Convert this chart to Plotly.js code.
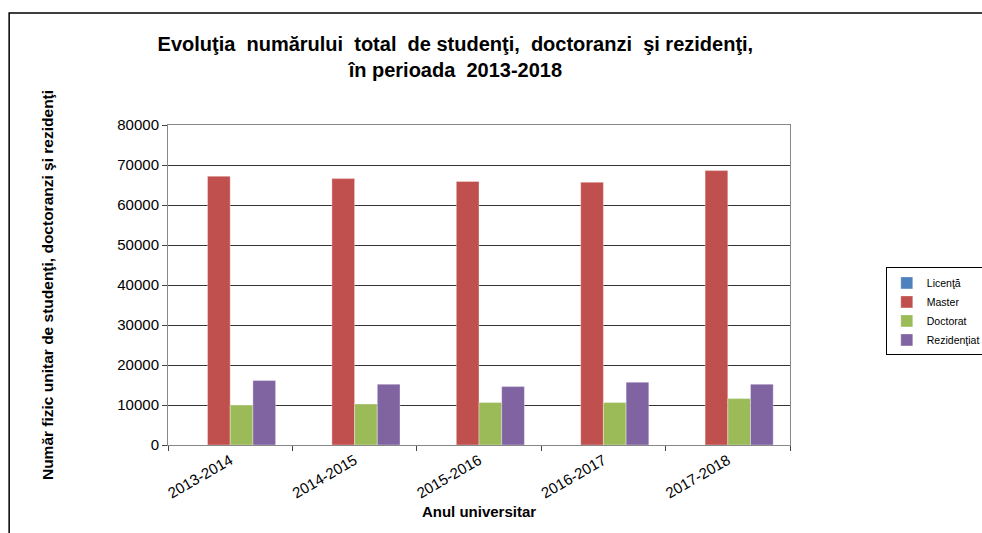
<!DOCTYPE html>
<html>
<head>
<meta charset="utf-8">
<script src="https://cdn.plot.ly/plotly-3.0.1.min.js"></script>
<style>
  body { margin: 0; background: #fff; }
  #chart { width: 982px; height: 533px; }
</style>
</head>
<body>
<div id="chart"></div>
<script>
// academic years
const years = ["2013-2014", "2014-2015", "2015-2016", "2016-2017", "2017-2018"];

// values
const licenta = [0, 0, 0, 0, 0];
const master = [67200, 66600, 65900, 65700, 68600];
const doctorat = [10000, 10250, 10650, 10650, 11600];
const rezidentiat = [16100, 15200, 14600, 15700, 15200];

const yTicks = [0, 10000, 20000, 30000, 40000, 50000, 60000, 70000, 80000];

function bar(name, vals, color) {
    return {
        type: 'bar',
        name: name,
        x: years,
        y: vals,
        marker: {color: color, line: {color: 'rgba(255,255,255,0.35)', width: 1}},
        hoverinfo: 'x+y+name'
    };
}

const data = [
    bar("Licenţă", licenta, '#4F81BD'),
    bar("Master", master, '#C0504D'),
    bar("Doctorat", doctorat, '#9BBB59'),
    bar("Rezidenţiat", rezidentiat, '#8064A2')
];

const layout = {
    width: 982,
    height: 533,
    margin: {l: 168, r: 192, t: 125, b: 88, autoexpand: false},
    paper_bgcolor: '#fff',
    plot_bgcolor: '#fff',
    font: {family: "Liberation Sans, Arial, sans-serif", color: '#000'},
    barmode: 'group',
    bargap: 0.27,
    bargroupgap: 0,
    title: {
        text: "<b>Evoluţia  numărului  total  de studenţi,  doctoranzi  şi rezidenţi,</b><br><b>în perioada  2013-2018</b>",
        font: {size: 20, color: '#000'},
        x: 0.462,
        xref: 'paper',
        xanchor: 'center',
        y: 0.905,
        yanchor: 'top'
    },
    xaxis: {
        type: 'category',
        tickangle: -30,
        tickfont: {size: 15, color: '#000'},
        ticks: 'outside',
        tickson: 'boundaries',
        ticklen: 5,
        tickcolor: '#444',
        showline: true,
        linecolor: '#888',
        linewidth: 1,
        mirror: true,
        showgrid: false,
        title: {text: "<b>Anul universitar</b>", font: {size: 15, color: '#000'}, standoff: 6},
        automargin: false
    },
    yaxis: {
        range: [0, 80000],
        tickvals: yTicks,
        ticktext: yTicks.map(String),
        tickfont: {size: 15, color: '#000'},
        ticks: 'outside',
        ticklen: 5,
        tickcolor: '#444',
        showline: true,
        linecolor: '#888',
        linewidth: 1,
        mirror: true,
        showgrid: true,
        gridcolor: '#333',
        gridwidth: 1,
        zeroline: false,
        title: {text: "<b>Număr fizic unitar de studenţi, doctoranzi şi rezidenţi</b>", font: {size: 15.5, color: '#000'}, standoff: 59},
        automargin: false
    },
    legend: {
        x: 1.154,
        y: 0.555,
        xanchor: 'left',
        yanchor: 'top',
        bordercolor: '#000',
        borderwidth: 1,
        font: {size: 10.5, color: '#000'},
        itemwidth: 30,
        tracegroupgap: 0
    },
    showlegend: true,
    shapes: [{
        type: 'rect',
        xref: 'paper', yref: 'paper',
        x0: -0.2554, x1: 1.35,
        y0: -0.3, y1: 1.35,
        line: {color: '#000', width: 1.5},
        fillcolor: 'rgba(0,0,0,0)',
        layer: 'below'
    }]
};

Plotly.newPlot('chart', data, layout, {displayModeBar: false, staticPlot: true});
</script>
</body>
</html>
